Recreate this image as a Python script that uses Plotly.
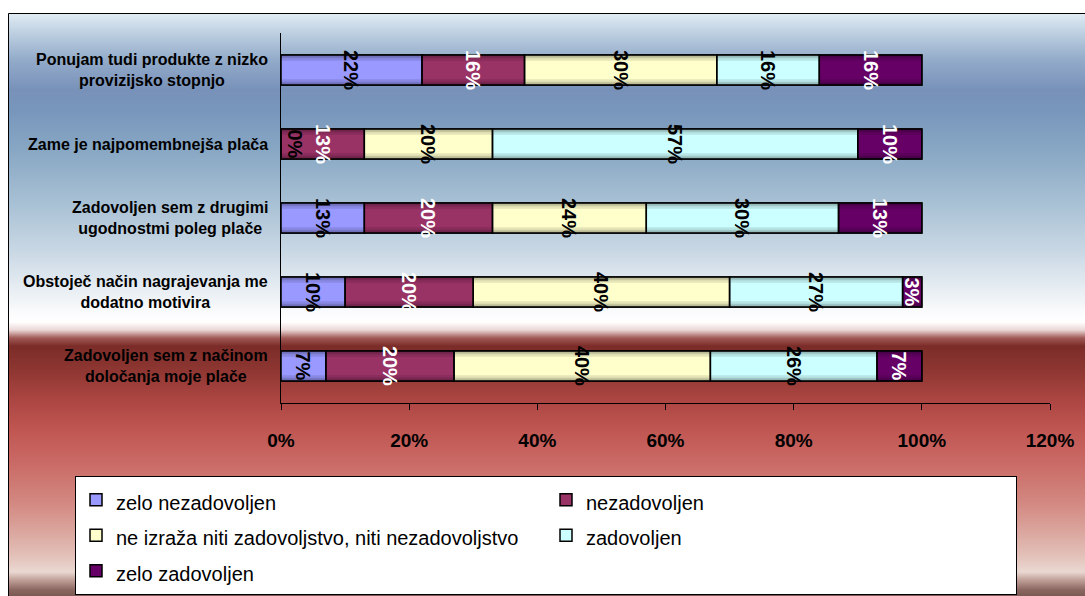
import plotly.graph_objects as go

# ---------------- data ----------------
categories = [
    "Ponujam tudi produkte z nizko<br>provizijsko stopnjo",
    "Zame je najpomembnejša plača",
    "Zadovoljen sem z drugimi<br>ugodnostmi poleg plače",
    "Obstoječ način nagrajevanja me<br>dodatno motivira",
    "Zadovoljen sem z načinom<br>določanja moje plače",
]
series_names = [
    "zelo nezadovoljen",
    "nezadovoljen",
    "ne izraža niti zadovoljstvo, niti nezadovoljstvo",
    "zadovoljen",
    "zelo zadovoljen",
]
zelo_nezadovoljen = [22, 0, 13, 10, 7]
nezadovoljen = [16, 13, 20, 20, 20]
ne_izraza = [30, 20, 24, 40, 40]
zadovoljen = [16, 57, 30, 27, 26]
zelo_zadovoljen = [16, 10, 13, 3, 7]
tick_values = [0, 20, 40, 60, 80, 100, 120]
tick_labels = ["0%", "20%", "40%", "60%", "80%", "100%", "120%"]

series_values = [zelo_nezadovoljen, nezadovoljen, ne_izraza, zadovoljen, zelo_zadovoljen]

# ---------------- style ----------------
colors = ["#9999FF", "#993366", "#FFFFCC", "#CCFFFF", "#660066"]
label_colors = ["black", "white", "black", "black", "white"]
FONT = "Liberation Sans"

W, H = 1085, 596
PL, PR, PT, PB = 281, 1050, 33, 403


def px_x(px):
    return (px - PL) / (PR - PL)


def px_y(py):
    return (PB - py) / (PB - PT)


def hex2rgb(h):
    h = h.lstrip("#")
    return [int(h[i:i + 2], 16) for i in (0, 2, 4)]


def shade(h, f):
    r, g, b = hex2rgb(h)
    return "rgb(%d,%d,%d)" % (r * f, g * f, b * f)


# cumulative bases for stacking
bases = []
running = [0] * len(categories)
for vals in series_values:
    bases.append(list(running))
    running = [a + b for a, b in zip(running, vals)]

BAR_W = 0.405
fig = go.Figure()

# legend-bearing traces (covered by shading layers)
for name, vals, base, col in zip(series_names, series_values, bases, colors):
    fig.add_trace(go.Bar(
        y=categories, x=vals, base=base, orientation="h", width=BAR_W,
        name="<span style='font-size:20px'>%s</span>" % name,
        marker=dict(color=col, line=dict(color="black", width=1.5)),
        hoverinfo="skip", showlegend=True,
    ))

# cylindrical shading layers
layers = [(BAR_W, 0.6), (0.37, 0.78), (0.32, 0.9), (0.25, 1.0)]
for vals, base, col in zip(series_values, bases, colors):
    for w, f in layers:
        fig.add_trace(go.Bar(
            y=categories, x=vals, base=base, orientation="h", width=w,
            marker=dict(color=shade(col, f), line=dict(width=0)),
            hoverinfo="skip", showlegend=False,
        ))

# outline + labels on top
for vals, base, lc in zip(series_values, bases, label_colors):
    tf = dict(family=FONT, size=20, color=lc, weight="bold")
    fig.add_trace(go.Bar(
        y=categories, x=vals, base=base, orientation="h", width=BAR_W,
        marker=dict(color="rgba(0,0,0,0)", line=dict(color="black", width=1.5)),
        text=["%d%%" % v for v in vals],
        textposition=["inside" if v > 0 else "outside" for v in vals],
        insidetextanchor="middle", textangle=90, constraintext="none",
        textfont=tf, insidetextfont=tf, outsidetextfont=tf,
        cliponaxis=False, showlegend=False, hoverinfo="skip",
    ))

# ---------------- background gradient ----------------
stops = [
    (13, "#e2ecf4"), (30, "#c2d4e4"), (60, "#93abc9"), (90, "#7891b9"),
    (110, "#7896bb"), (150, "#88a7c4"), (200, "#a6bfd3"), (250, "#c8d7e4"),
    (290, "#e8eef3"), (312, "#fafbfc"), (322, "#ffffff"), (330, "#ead8d6"),
    (338, "#a05a56"), (346, "#7b2c28"), (370, "#8e3632"), (400, "#ac4642"),
    (430, "#c05652"), (460, "#c96864"), (500, "#d2867f"), (530, "#daa49c"),
    (555, "#e2c0b8"), (572, "#ead8d2"), (580, "#c0a098"), (590, "#8a6660"),
    (597, "#785850"),
]


def color_at(py):
    for (y0, c0), (y1, c1) in zip(stops[:-1], stops[1:]):
        if y0 <= py <= y1:
            t = (py - y0) / (y1 - y0) if y1 > y0 else 0
            a, b = hex2rgb(c0), hex2rgb(c1)
            return "rgb(%d,%d,%d)" % tuple(round(a[i] + (b[i] - a[i]) * t) for i in range(3))
    return stops[-1][1]


shapes = []
for py in range(13, 597):
    shapes.append(dict(
        type="rect", xref="paper", yref="paper", layer="below",
        x0=px_x(8), x1=px_x(W + 10), y0=px_y(py + 1.5), y1=px_y(py),
        fillcolor=color_at(py + 0.5), line=dict(width=0),
    ))
shapes.append(dict(
    type="rect", xref="paper", yref="paper", layer="below",
    x0=px_x(8.5), x1=px_x(W + 10), y0=px_y(H + 10), y1=px_y(13.5),
    fillcolor="rgba(0,0,0,0)", line=dict(color="black", width=1),
))

# category labels (two-line, centred)
annotations = []
for cat in categories:
    annotations.append(dict(
        xref="paper", yref="y", x=px_x(270), y=cat, xanchor="right", yanchor="middle",
        text=cat, align="center", showarrow=False,
        font=dict(family=FONT, size=16, color="black", weight="bold"),
    ))

fig.update_layout(
    width=W, height=H,
    margin=dict(l=PL, r=W - PR, t=PT, b=H - PB, autoexpand=False),
    paper_bgcolor="white", plot_bgcolor="rgba(0,0,0,0)",
    barmode="overlay",
    font=dict(family=FONT, color="black"),
    shapes=shapes, annotations=annotations,
    showlegend=True,
    legend=dict(
        orientation="h", x=px_x(75), xanchor="left", y=px_y(476), yanchor="top",
        bgcolor="white", bordercolor="black", borderwidth=1,
        font=dict(family=FONT, size=25, color="black"),
        entrywidth=425, entrywidthmode="pixels", traceorder="normal",
    ),
    xaxis=dict(
        range=[0, 120], tickmode="array", tickvals=tick_values, ticktext=tick_labels,
        showline=True, linecolor="black", linewidth=1,
        ticks="outside", ticklen=6, tickcolor="black", tickwidth=1,
        showgrid=False, zeroline=False, ticklabelstandoff=14,
        tickfont=dict(family=FONT, size=19, color="black", weight="bold"),
        fixedrange=True,
    ),
    yaxis=dict(
        type="category", categoryorder="array", categoryarray=categories,
        autorange="reversed", showticklabels=False,
        showline=True, linecolor="black", linewidth=1,
        ticks="", showgrid=False, zeroline=False, fixedrange=True,
    ),
)

fig.write_html("out.html")
